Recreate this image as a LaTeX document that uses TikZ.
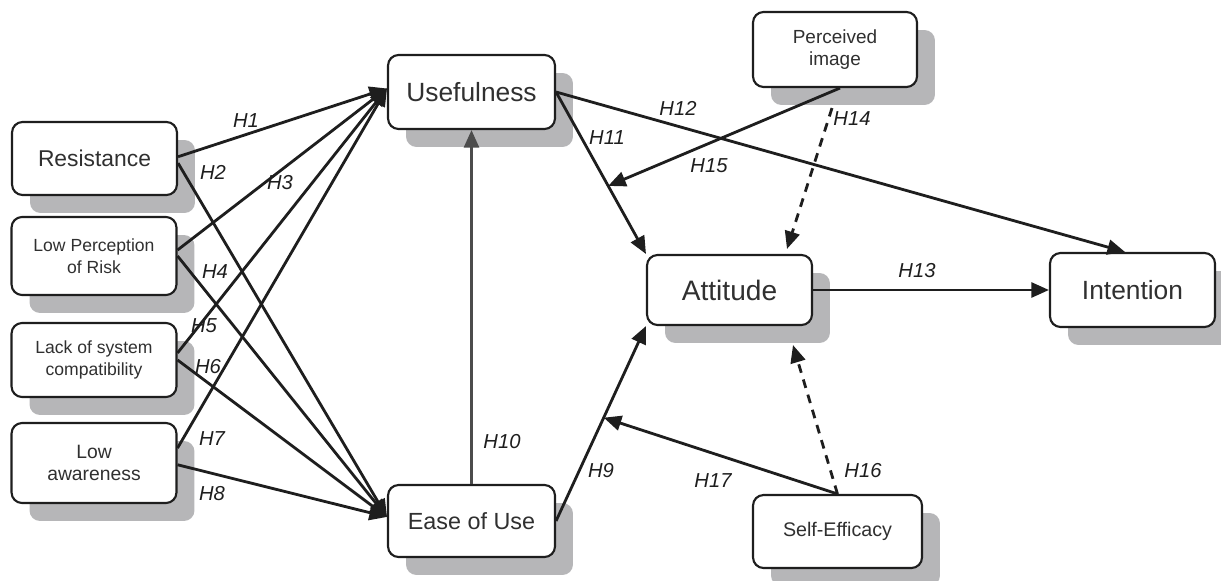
\documentclass[tikz,border=0pt]{standalone}
\usepackage{fontspec}
\setmainfont{Liberation Sans}
\usepackage{xcolor}
\usepackage{tikz}
\usetikzlibrary{positioning,arrows.meta,calc,shadows}

\definecolor{inkline}{HTML}{1E1E1E}
\definecolor{inktext}{HTML}{303030}
\definecolor{shade}{HTML}{B6B6B8}

\newcommand{\fsz}[2]{\fontsize{#1}{#2}\selectfont}

\begin{document}
\begin{tikzpicture}[
  x=0.02cm, y=-0.02cm,
  factor/.style={draw=inkline, line width=1.2pt, rounded corners=6pt,
                 fill=white, text=inktext, align=center,
                 minimum width=3.3cm, minimum height=1.46cm,
                 drop shadow={shadow xshift=0.36cm, shadow yshift=-0.36cm,
                              fill=shade, opacity=1}},
  arr/.style={-{Triangle[length=10pt,width=8.5pt]}, line width=1.6pt, draw=inkline},
  dasharr/.style={arr, dash pattern=on 5pt off 4pt},
  hyp/.style={font=\itshape\fsz{11.5}{12}, text=inkline, inner sep=1pt}
]
\useasboundingbox (0,0) rectangle (1221,581);

%% --- Antecedents (left column) --------------------------------
\node[factor, font=\fsz{13}{15}] (res) at (94.5,158.5) {Resistance};
\node[factor, font=\fsz{10}{12.5}, minimum height=1.56cm] (risk) at (94,256)
     {Low Perception\\of Risk};
\node[factor, font=\fsz{10}{12.5}, minimum height=1.48cm] (compat) at (94,360)
     {Lack of system\\compatibility};
\node[factor, font=\fsz{11}{12.5}, minimum height=1.6cm] (aware) at (94,463)
     {Low\\awareness};

%% --- TAM core ---------------------------------------------------
\node[factor, font=\fsz{15}{17}, minimum width=3.34cm, minimum height=1.48cm]
     (useful) at (471.5,92) {Usefulness};
\node[factor, font=\fsz{13.3}{15}, minimum width=3.34cm, minimum height=1.44cm]
     (ease) at (471.5,521) {Ease of Use};
\node[factor, font=\fsz{16}{18}, minimum height=1.4cm]
     (att) at (729.5,290) {Attitude};
\node[factor, font=\fsz{15}{17}, minimum height=1.48cm]
     (intent) at (1132.5,290) {Intention};

%% --- Moderators -------------------------------------------------
\node[factor, font=\fsz{10.8}{12.5}, minimum width=3.28cm, minimum height=1.5cm]
     (image) at (835,49.5) {Perceived\\image};
\node[factor, font=\fsz{11.2}{13}, minimum width=3.38cm]
     (self) at (837.5,531.5) {Self-Efficacy};

%% --- Antecedents -> Usefulness / Ease of Use --------------------
\draw[arr] ([yshift=1pt]res.east)    -- ([yshift=2pt]useful.west);
\draw[arr] ([yshift=-2.6pt]res.east) -- ([yshift=2.3pt]ease.west);
\draw[arr] ([yshift=3.4pt]risk.east) -- ([yshift=2pt]useful.west);
\draw[arr] (risk.east)               -- ([yshift=2.3pt]ease.west);
\draw[arr] ([yshift=4pt]compat.east) -- ([yshift=2pt]useful.west);
\draw[arr] (compat.east)             -- ([yshift=2.3pt]ease.west);
\draw[arr] ([yshift=8.5pt]aware.east) -- ([yshift=2pt]useful.west);
\draw[arr] ([yshift=-1pt]aware.east) -- ([yshift=2.3pt]ease.west);

%% --- Core paths -------------------------------------------------
\draw[arr, draw=black!70] (ease.north) -- (useful.south);
\draw[arr] (ease.east) -- (att.south west);
\draw[arr] (useful.east) -- (att.north west);
\draw[arr] (useful.east) -- ([xshift=-0.15cm]intent.north);
\draw[arr] (att.east) -- (intent.west);

%% --- Moderating effects -----------------------------------------
\coordinate (onH11) at ($(useful.east)!0.58!(att.north west)$);
\coordinate (onH9)  at ($(ease.east)!0.53!(att.south west)$);
\draw[arr] ([xshift=0.1cm]image.south) -- (onH11);
\draw[dasharr] ([xshift=-0.06cm, yshift=-0.4cm]image.south)
  -- ([xshift=1.15cm, yshift=0.1cm]att.north);
\draw[dasharr] (self.north) -- ([xshift=1.27cm, yshift=-0.38cm]att.south);
\draw[arr] (self.north) -- (onH9);

%% --- Hypothesis labels ------------------------------------------
\node[hyp] (l1)  at (246,121) {H1};
\node[hyp] (l2)  at (213,172) {H2};
\node[hyp] (l3)  at (280,183) {H3};
\node[hyp] (l4)  at (215,272) {H4};
\node[hyp] (l5)  at (204,326) {H5};
\node[hyp] (l6)  at (208,367) {H6};
\node[hyp] (l7)  at (212,439) {H7};
\node[hyp] (l8)  at (212,494) {H8};
\node[hyp] (l9)  at (601,471) {H9};
\node[hyp] (l10) at (502,442) {H10};
\node[hyp] (l11) at (607,138) {H11};
\node[hyp] (l12) at (678,108) {H12};
\node[hyp] (l13) at (917,271) {H13};
\node[hyp] (l14) at (852,119) {H14};
\node[hyp] (l15) at (709,166) {H15};
\node[hyp] (l16) at (863,471) {H16};
\node[hyp] (l17) at (713,481) {H17};

\end{tikzpicture}
\end{document}
